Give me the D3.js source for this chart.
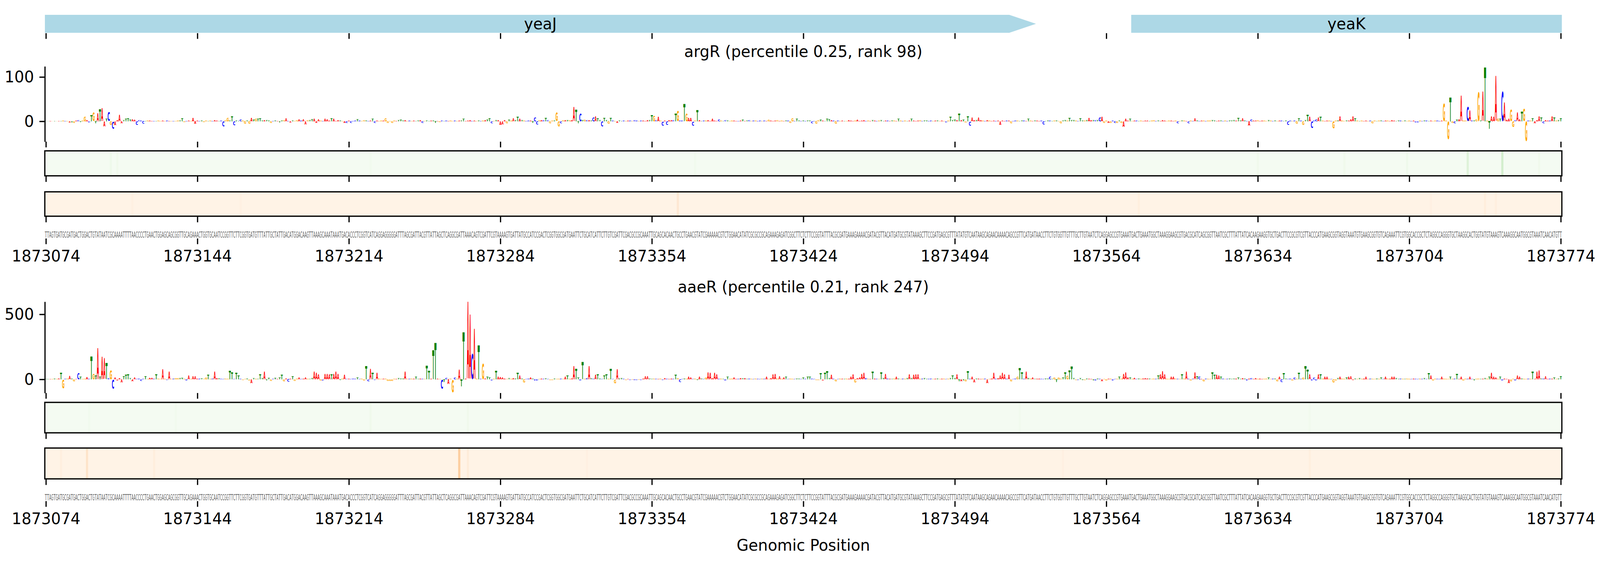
<!DOCTYPE html>
<html>
<head>
<meta charset="utf-8">
<script src="https://cdn.jsdelivr.net/npm/d3@7"></script>
<style>
  html, body { margin: 0; padding: 0; background: #fff; overflow: hidden; }
  svg { display: block; width: 100vw; height: 100vh; }
  text { font-family: "DejaVu Sans", sans-serif; }
</style>
</head>
<body>
<div id="app"></div>
<script>
// Reference sequence, one block of 10 bases per entry (positions 1873074..1873774)
const sequenceBlocks = [
  "TTAGTGATGC", "GATGACTGGA", "CTGTATAATC", "GCAAAATTTT", "AACCCCTGAA",
  "CTGGAGCAGC", "GGTTGCAGAA", "ACTGGTGCAA", "TCCGGTTCTT", "CGGTGATGTT",
  "TATTGCTATT", "GACATGGACA", "AGTTAAAGCA", "AATAAATGAC", "ACCCTCGGTC",
  "ATCAGGAGGG", "GGATTTAGCG", "ATTACGTTAT", "TAGCTCAGGC", "GATTAAACAG",
  "TCGATTCGTA", "AAAGTGATTA", "TGCCATCCGA", "CTCGGTGGCG", "ATGAATTCTG",
  "CATCATTCTT", "GTCGATTCGA", "CGCCGCAAAT", "TGCAGCACAA", "CTGCCTGAAC",
  "GTATCGAAAA", "ACGTCTGGAA", "CATATCGCGC", "CGCAGAAAGA", "GATCGGCTTC",
  "TCTTCCGGTA", "TTTACGCGAT", "GAAAGAAAAC", "GATACGTTAC", "ATGATGCGTA",
  "TAAAGCTTCC", "GATGAGCGTT", "TATATGTCAA", "TAAGCAGAAC", "AAAACAGCCG",
  "TTCATGATAA", "CCTTCTGTGG", "TTGTTTGCTT", "GTAATCTCAG", "GAGCCGTGAA",
  "ATGACTGAAA", "TGGCTAAAGG", "AAGCGTGACG", "CATCAGCGGT", "TAATCGCTTT",
  "ATTATCACAA", "GAAGGTGCTG", "ACTTCCGCGT", "CGTTACCCAT", "GAAGCGGTAG",
  "GTAAATGTGA", "AGCGGTGTCA", "GAAATTCGTG", "GCACCGCTCT", "AGGCCAGGGT",
  "GCTAAGGCAC", "TGGTATGTAA", "AGTCAAAGGC", "AATGGCGTAA", "ATCAACATGT",
  "T"
];
const startPos = 1873074;
const tickValues = [1873074, 1873144, 1873214, 1873284, 1873354, 1873424,
  1873494, 1873564, 1873634, 1873704, 1873774];

// genes in view (coordinates clipped to the window)
const geneNames = ["yeaJ", "yeaK"];
const geneStarts = [1873074, 1873576];
const geneEnds = [1873531, 1874200];

// attribution score per base, argR panel
const argrScores = [
  0.5, 0.5, 1, 0.5, 1, 0.5, 1, 1, 2, 1,
  1, -3, -3, -4, 2, 3, -2, 2, 11, 3,
  -3, 14, 20, -5, 18, 28, 29, -12, 6, 21,
  -8, -17, -9, 3, 15, -5, 3, 6, 7, 4,
  5, 4, -8, 3, 2, -6, 1, 2, 2, 1,
  1, 1, 2, 1, 2, 1, 2, 1, 1, 1,
  1, 2, 2, 7, -2, 1, 2, 1, 8, -6,
  2, 1, 2, -2, 2, 1, 2, 1, 3, 2,
  1, 2, -12, 3, 8, 2, 12, -9, 2, 1,
  5, 2, -6, 2, -6, 8, 4, 6, 6, 7,
  2, 3, 3, 2, -4, 1, 2, 1, -3, 2,
  3, 7, 1, -3, 2, 1, 3, 5, 2, 5,
  -7, 3, 3, 5, 6, -4, 5, 2, 1, 6,
  5, 2, 7, 6, 1, 3, 2, 1, -4, -4,
  2, -4, 1, 2, 5, 2, 1, 3, 2, 1,
  2, 6, -4, 2, 1, 2, 2, 7, -4, 1,
  -4, 2, 1, 3, 4, 2, 3, 1, 2, 1,
  2, 1, 2, 3, -4, 1, 2, 1, 2, 2,
  -4, 1, -2, 2, 1, 2, 1, 2, 1, 2,
  1, 2, 2, 6, 1, 2, 3, 1, 2, 1,
  2, 1, 2, 3, 4, 7, -5, 1, 3, 3,
  -8, -7, 3, -5, 4, 2, 7, 3, 10, 6,
  3, 2, 1, 2, 2, -4, 10, -7, 3, 3,
  3, 8, 3, -5, 2, 2, 20, -12, -5, 3,
  3, 3, 3, 3, 33, 27, -5, 18, 3, 4,
  3, 3, 2, 10, 12, 7, 3, -12, 8, 3,
  -6, 8, 2, 1, -4, 2, 1, 2, 1, 2,
  2, 1, 3, 2, 1, 2, 2, 1, 3, 3,
  14, 13, 3, 10, 2, -10, 2, -8, 3, 3,
  3, 17, 24, 2, 2, 40, 18, 8, 8, -10,
  2, 25, 3, 1, 2, 2, 3, 1, 6, 2,
  1, 5, 2, 1, 3, 2, 1, 2, 2, 1,
  1, 2, 4, 1, 2, 3, 1, 2, 2, 1,
  2, 1, 2, 1, 4, 2, 1, 2, 3, 1,
  2, 1, 2, 2, -4, 7, 1, 6, 2, 1,
  2, 1, 2, 2, -5, 1, -6, 3, 4, 2,
  1, 6, 5, 3, 2, -6, 2, 1, 2, 1,
  1, 3, 2, 1, 2, 4, 1, 2, 3, 1,
  2, 1, 3, 2, 1, 2, 3, 1, 2, 2,
  1, 2, 2, 1, 6, 2, 1, 2, 1, 2,
  6, 2, 1, 2, 3, 1, 2, 2, 1, 2,
  1, 2, 2, 1, 2, 1, -3, 2, 10, 3,
  4, 3, 17, 3, 4, -3, 11, -10, 9, 3,
  3, 9, 3, 2, 1, 3, 2, 1, 2, 1,
  2, -8, 2, 1, 2, 2, -5, 1, 2, 2,
  1, 2, 2, 1, 6, 2, 1, 2, 2, 1,
  2, -7, 1, 2, 2, 1, 2, 2, 1, -5,
  2, 3, 2, 8, 3, 3, 2, 1, 7, 2,
  2, 3, 8, 3, 3, 3, 3, 10, 10, -4,
  2, -4, -4, 2, -4, -4, 2, -4, -13, 6,
  2, 6, 1, 2, 2, 1, 2, 1, 2, 2,
  1, 2, 3, 1, 2, 1, 3, 2, 1, 2,
  2, 1, 2, -5, 1, 2, 2, 1, -5, 2,
  1, 7, 2, 1, 2, 2, 1, 2, 2, 3,
  2, 1, 2, 2, 1, 2, 1, 2, 2, 3,
  2, 8, 2, 7, 2, 1, -10, 5, 2, 2,
  3, 1, 2, 2, 1, 3, 2, 1, 2, 1,
  2, 2, 1, 2, -8, 2, 1, 2, -6, 7,
  2, -8, 3, 15, 10, -15, 2, 5, 9, 10,
  2, 1, 2, 2, 1, -16, 2, 2, 11, 2,
  1, 2, 2, 5, 11, 7, 2, 1, 2, 1,
  2, 1, 2, -5, 2, 1, 2, 2, 1, 2,
  2, 1, 3, 2, 1, 2, 2, 1, 2, 1,
  2, 1, 2, -3, -3, 2, 1, 2, 2, 1,
  2, 1, 2, 2, 1, 2, 40, 2, -40, 55,
  -4, -5, 4, 5, 58, 2, 2, 33, 24, 2,
  2, 5, 67, 2, 67, 123, 2, -17, 11, 10,
  102, 6, 6, 68, 42, 4, 6, 26, -13, 3,
  20, 5, 22, 28, -45, 2, 2, 7, -5, 3,
  12, 9, -5, 3, 2, 2, 11, 9, 2, 3,
  7
];

// attribution score per base, aaeR panel
const aaerScores = [
  2, 2, 3, 3, 5, 4, 8, 50, -70, 5,
  6, 27, 5, -15, 3, 50, 20, 3, 5, 18,
  5, 176, 45, 30, 240, 20, 175, 162, 128, 10,
  72, -73, 15, -8, 10, -25, 22, 35, 38, 10,
  -15, 15, 4, 6, -12, 5, 25, 4, 12, 12,
  5, 40, 6, 4, 79, 5, -5, 57, 4, 6,
  10, 10, 10, 12, 5, -10, 30, 4, 25, 25,
  5, 6, 8, 4, 15, 36, 5, 6, 60, 10,
  8, 5, 4, 6, 5, 66, 55, 4, 50, 30,
  5, -5, 4, 6, -8, -30, 10, 5, 4, 40,
  10, 60, -10, 12, -12, 5, 12, 4, 15, 37,
  -15, 8, -18, 5, 23, -12, 6, 15, 4, 5,
  15, 5, 4, 10, 60, 50, 40, -10, -8, 45,
  45, 40, 40, 45, 60, 45, -5, 6, 35, 4,
  5, 4, 6, 5, 15, 4, 6, -10, 104, -15,
  82, 51, -5, 50, 6, 4, 5, 6, -12, -12,
  -12, 5, 4, 10, 6, 5, 57, 4, 5, 6,
  5, 20, 4, 6, 5, 4, 107, 68, 5, 224,
  283, 5, 4, -74, -20, 12, -38, 6, -99, 15,
  5, 76, -54, 368, 6, 597, 500, 200, 386, 6,
  264, 5, 123, 8, 20, 15, -8, 5, 66, 20,
  18, 15, 6, 4, 10, 5, 10, 6, 53, 30,
  5, -25, 4, 6, 15, 5, -10, -10, 4, 6,
  5, 8, 4, -5, -5, 6, 4, 5, 6, 4,
  20, 30, 5, 8, 104, 82, 15, -10, 133, 5,
  10, 101, 8, 5, 35, 40, 6, 4, 30, 40,
  5, 81, 4, -30, 79, 6, 10, 5, -5, 4,
  -5, -4, -6, -5, -4, -5, 6, 25, 25, 5,
  4, 6, 5, 4, 6, -5, 10, 5, 4, 6,
  5, 36, 10, -20, 4, 6, 5, 20, 15, 4,
  6, -5, 20, 5, 4, 15, 56, 50, 10, 50,
  40, 5, 6, 4, -10, 20, 5, 6, 15, 4,
  5, 10, 8, 10, 4, 6, 5, 4, 6, 5,
  4, 6, 5, 20, 4, 10, 40, 45, 6, 25,
  5, 15, 20, 4, 6, 5, 4, 6, 5, 4,
  15, 5, 20, 20, 6, 4, -5, -5, 49, -8,
  53, 64, 10, 34, 5, -15, 4, 6, 5, 4,
  6, 5, 20, 40, -25, 10, 15, 45, 50, 10,
  5, 4, 58, 6, 5, 4, 55, 10, 45, 6,
  5, 4, 6, 20, 5, 4, 6, 5, 10, 40,
  10, 35, 40, 40, 5, 6, 10, 4, 5, 6,
  4, 5, 6, 4, 5, 6, 4, 5, 10, 30,
  10, 40, -15, -15, -10, -15, 61, 5, 20, -25,
  5, 6, 4, 5, 6, -30, 4, 6, 50, 5,
  10, 30, 50, 40, 5, 35, -15, 4, 6, 20,
  88, 55, 5, 60, 10, 6, 15, 4, 5, 6,
  5, 4, 6, 5, 20, 4, 15, -20, 15, 6,
  15, 55, 30, 70, 98, 10, -5, -5, 10, -5,
  -5, 6, 5, 4, -10, -10, 6, 5, -15, 4,
  -10, 5, 6, -10, 4, 5, 20, 6, 45, 55,
  15, 15, 5, 12, 4, 6, 5, 8, 10, 8,
  5, 4, 6, 5, 30, 40, 63, 40, 5, 4,
  20, 20, 6, 5, 4, 40, 6, 60, 5, -10,
  5, 55, 25, 20, 4, -15, 6, 5, 4, 55,
  35, 35, 30, 20, 6, 4, 5, 6, 4, 5,
  6, 15, 4, 10, 5, -10, 6, 10, 4, 10,
  5, 6, 4, 5, 6, 15, 4, 6, 5, -15,
  20, -20, 47, 5, 4, 6, -10, 15, 5, 51,
  5, 15, 104, 74, 40, -10, 15, -10, 40, 40,
  6, 20, 20, 5, 4, -25, -10, 10, 20, 6,
  5, 15, 20, 25, -5, 6, 4, 10, 5, 6,
  20, 4, 6, 5, 4, 6, 5, 15, 4, 20,
  6, 5, 20, 20, 10, 4, 6, 5, 4, 6,
  5, 4, 6, 5, 4, 6, 5, 10, 4, 47,
  30, -10, 6, 5, 4, 20, 6, 5, 4, 20,
  5, 6, 45, 4, 20, -10, 6, 5, 20, 4,
  -10, 5, 6, 4, 5, 10, 6, 20, 51, 20,
  15, 5, 20, -10, 6, 4, -30, -15, 5, -10,
  30, 20, 6, 5, 4, 6, 5, 57, 4, 60,
  72, 5, 6, 25, 4, 6, 5, 15, 4, 6,
  25
];

// heatmap strips: [position index, intensity]; every other cell is at the pale base level
const heatBase = 0.02;
const argrGreen = [[30, 0.06], [33, 0.05], [150, 0.04], [300, 0.04], [560, 0.05],
  [600, 0.05], [629, 0.06], [657, 0.15], [673, 0.2], [690, 0.05]];
const argrOrange = [[40, 0.04], [90, 0.04], [292, 0.1], [505, 0.05], [640, 0.04],
  [665, 0.06], [670, 0.05]];
const aaerGreen = [[20, 0.04], [60, 0.04], [150, 0.05], [195, 0.05], [450, 0.04], [584, 0.04]];
const aaerOrange = [[7, 0.05], [19, 0.13], [50, 0.06], [191, 0.25], [195, 0.07],
  [250, 0.04], [470, 0.04], [584, 0.05]];

const sequence = sequenceBlocks.join("");
if (sequence.length !== argrScores.length || sequence.length !== aaerScores.length) {
  console.warn("length mismatch", sequence.length, argrScores.length, aaerScores.length);
}

const W = 4320, H = 1440;
const FS = 41.67;   // 10pt at 300 dpi
const LW = 3.3;
const TL = 14.6;
const letterColors = { A: "red", C: "blue", G: "orange", T: "green" };

const x = d3.scaleLinear()
  .domain([startPos - 0.5, startPos + sequence.length - 0.5])
  .range([121, 4217]);
const bw = x(startPos + 1) - x(startPos);
const xMid = (x.range()[0] + x.range()[1]) / 2;

// the figure is stretched over the whole window
const svg = d3.select("#app").append("svg")
  .attr("viewBox", `0 0 ${W} ${H}`)
  .attr("preserveAspectRatio", "none")
  .style("background", "#fff");

// glyph bounds for stretching letters into their boxes
const ctx = document.createElement("canvas").getContext("2d");
ctx.font = "bold 100px 'DejaVu Sans'";
const glyph = {};
for (const L of "ACGT") {
  const m = ctx.measureText(L);
  glyph[L] = { l: m.actualBoundingBoxLeft, r: m.actualBoundingBoxRight,
    a: m.actualBoundingBoxAscent, d: m.actualBoundingBoxDescent };
}
ctx.font = "22px 'DejaVu Sans'";
const seqAdvance = {};
for (const L of "ACGT") seqAdvance[L] = ctx.measureText(L).width;

function bottomTicks(y, withLabels) {
  const g = svg.append("g")
    .attr("transform", `translate(0,${y})`)
    .call(d3.axisBottom(x).tickValues(tickValues)
      .tickSize(TL).tickSizeOuter(0).tickPadding(14.6)
      .tickFormat(withLabels ? d3.format("d") : ""));
  g.select(".domain").remove();
  g.attr("font-size", FS).attr("font-family", "DejaVu Sans");
  g.selectAll(".tick line").attr("stroke-width", LW);
  return g;
}

// gene track
svg.append("clipPath").attr("id", "geneclip")
  .append("rect").attr("x", x.range()[0]).attr("y", 0)
  .attr("width", x.range()[1] - x.range()[0]).attr("height", 100);
const genes = geneNames.map((n, i) => ({ name: n, start: geneStarts[i], end: geneEnds[i] }));
const geneTop = 38, geneBot = 84, headLen = 72;
const gGenes = svg.append("g").attr("clip-path", "url(#geneclip)");
genes.forEach(d => {
  const x0 = Math.max(x(d.start - 0.5), x.range()[0]);
  const x1 = x(d.end + 0.5);
  const inView = x1 <= x.range()[1];
  const pts = inView
    ? [[x0, geneTop], [x1 - headLen, geneTop], [x1, (geneTop + geneBot) / 2], [x1 - headLen, geneBot], [x0, geneBot]]
    : [[x0, geneTop], [x1, geneTop], [x1, geneBot], [x0, geneBot]];
  gGenes.append("polygon")
    .attr("points", pts.map(p => p.join(",")).join(" "))
    .attr("fill", "#add8e6");
  const xe = Math.min(x1, x.range()[1]);
  gGenes.append("text")
    .attr("x", (x0 + xe) / 2).attr("y", (geneTop + geneBot) / 2)
    .attr("text-anchor", "middle").attr("dominant-baseline", "central")
    .attr("font-size", FS).text(d.name);
});
bottomTicks(85, false);

function drawPanel(cfg) {
  // title
  svg.append("text").attr("x", xMid).attr("y", cfg.titleY)
    .attr("text-anchor", "middle").attr("font-size", FS).text(cfg.title);

  // logo: each base stretched to fill its column, from 0 up (or down) to its score
  const y = d3.scaleLinear().domain(cfg.yDomain).range([cfg.logoBottom, cfg.logoTop]);
  const gl = svg.append("g");
  cfg.scores.forEach((v, i) => {
    const L = sequence[i];
    const gb = glyph[L];
    const w = bw * 0.97;
    const x0 = x(startPos + i) - w / 2;
    const h = Math.abs(y(v) - y(0));
    if (h < 0.05) return;
    const top = Math.min(y(v), y(0));
    const sx = w / (gb.l + gb.r), sy = h / (gb.a + gb.d);
    gl.append("text")
      .attr("transform", `translate(${x0},${top}) scale(${sx},${sy}) translate(${gb.l},${gb.a})`)
      .attr("font-size", 100).attr("font-weight", "bold")
      .attr("fill", letterColors[L]).text(L);
  });
  const ya = svg.append("g").attr("transform", `translate(${x.range()[0]},0)`)
    .call(d3.axisLeft(y).tickValues(cfg.yTicks).tickSize(TL).tickSizeOuter(0).tickPadding(14.6));
  ya.attr("font-size", FS).attr("font-family", "DejaVu Sans");
  ya.selectAll("line, path").attr("stroke-width", LW);
  bottomTicks(cfg.logoBottom, false);

  // heat strips
  [[cfg.green, d3.interpolateGreens, cfg.greenBox], [cfg.orange, d3.interpolateOranges, cfg.orangeBox]]
    .forEach(([cells, interp, box]) => {
      const g = svg.append("g");
      g.append("rect").attr("x", x.range()[0]).attr("y", box[0])
        .attr("width", x.range()[1] - x.range()[0]).attr("height", box[1] - box[0])
        .attr("fill", interp(heatBase));
      g.selectAll("rect.cell").data(cells).join("rect").attr("class", "cell")
        .attr("x", d => x(startPos + d[0] - 0.5)).attr("width", bw)
        .attr("y", box[0]).attr("height", box[1] - box[0])
        .attr("fill", d => interp(d[1]));
      g.append("rect").attr("x", x.range()[0]).attr("y", box[0])
        .attr("width", x.range()[1] - x.range()[0]).attr("height", box[1] - box[0])
        .attr("fill", "none").attr("stroke", "#000").attr("stroke-width", LW);
      bottomTicks(box[1] + 1, false);
    });

  // sequence row
  const gs = svg.append("g");
  gs.selectAll("text").data(sequence.split("")).join("text")
    .attr("transform", (d, i) => `translate(${x(startPos + i)},${cfg.seqBase}) scale(${bw / seqAdvance[d]},1)`)
    .attr("text-anchor", "middle").attr("font-size", 22).attr("fill", "#666")
    .text(d => d);
  bottomTicks(cfg.seqBase + 2, true);
}

drawPanel({
  title: "argR (percentile 0.25, rank 98)", titleY: 146,
  scores: argrScores, yDomain: [-46, 124], yTicks: [0, 100],
  logoTop: 170, logoBottom: 363,
  green: argrGreen, greenBox: [386.5, 450.5],
  orange: argrOrange, orangeBox: [491.5, 554],
  seqBase: 609
});
drawPanel({
  title: "aaeR (percentile 0.21, rank 247)", titleY: 749,
  scores: aaerScores, yDomain: [-105, 597], yTicks: [0, 500],
  logoTop: 773, logoBottom: 1007,
  green: aaerGreen, greenBox: [1031, 1109],
  orange: aaerOrange, orangeBox: [1148, 1227],
  seqBase: 1282
});

svg.append("text").attr("x", xMid).attr("y", 1411)
  .attr("text-anchor", "middle").attr("font-size", FS).text("Genomic Position");
</script>
</body>
</html>
